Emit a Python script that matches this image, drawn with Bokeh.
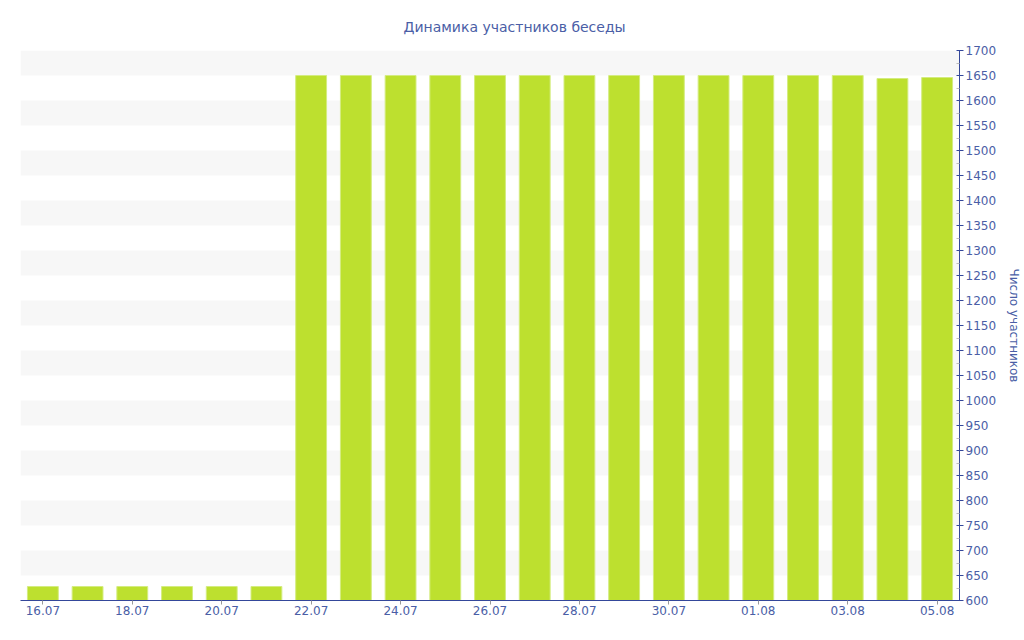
from bokeh.plotting import figure
from bokeh.models import FixedTicker, Range1d, Title
from bokeh.embed import file_html
from bokeh.resources import INLINE

dates = ["16.07", "17.07", "18.07", "19.07", "20.07", "21.07", "22.07",
         "23.07", "24.07", "25.07", "26.07", "27.07", "28.07", "29.07",
         "30.07", "31.07", "01.08", "02.08", "03.08", "04.08", "05.08"]
members = [628, 628, 628, 628, 628, 628, 1650,
           1650, 1650, 1650, 1650, 1650, 1650, 1650,
           1650, 1650, 1650, 1650, 1650, 1644, 1646]
y_ticks = list(range(600, 1701, 50))
x_tick_idx = list(range(0, 21, 2))
title_text = "Динамика участников беседы"

TEXT = "#4a5ea6"
AXIS = "#34479a"
FONT = "DejaVu Sans"

p = figure(width=1024, height=640, output_backend="svg", toolbar_location=None,
           x_range=Range1d(-0.5, len(dates) - 0.5), y_range=Range1d(600, 1700),
           y_axis_location="right", min_border_left=20, min_border_right=64,
           min_border_top=50, min_border_bottom=40)
p.outline_line_color = None
p.background_fill_color = "white"

p.vbar(x=list(range(len(dates))), top=members, bottom=600, width=0.69,
       fill_color="#bde02f", line_color="#d4ec80", line_width=1)

t = Title(text=title_text, align="left",
          text_font=FONT, text_font_size="14px", text_font_style="normal",
          text_color=TEXT, offset=383, standoff=32)
p.add_layout(t, "above")

# x axis
p.xaxis.ticker = FixedTicker(ticks=x_tick_idx)
p.xaxis.major_label_overrides = {i: dates[i] for i in x_tick_idx}
p.xaxis.axis_line_color = AXIS
p.xaxis.major_tick_line_color = "#999999"
p.xaxis.major_tick_in = 0
p.xaxis.major_tick_out = 4
p.xaxis.minor_tick_line_color = None
p.xaxis.major_label_text_font = FONT
p.xaxis.major_label_text_font_size = "12px"
p.xaxis.major_label_text_color = TEXT
p.xaxis.major_label_standoff = 1

# y axis (right)
p.yaxis.ticker = FixedTicker(ticks=y_ticks, minor_ticks=[v + 25 for v in y_ticks[:-1]])
p.yaxis.axis_line_color = AXIS
p.yaxis.major_tick_line_color = AXIS
p.yaxis.major_tick_in = 3
p.yaxis.major_tick_out = 4
p.yaxis.minor_tick_line_color = "#bbbbbb"
p.yaxis.minor_tick_in = 3
p.yaxis.minor_tick_out = 0
p.yaxis.major_label_text_font = FONT
p.yaxis.major_label_text_font_size = "12px"
p.yaxis.major_label_text_color = TEXT
p.yaxis.major_label_standoff = 2
p.yaxis.axis_label = "Число участников"
p.yaxis.axis_label_text_font = FONT
p.yaxis.axis_label_text_font_size = "12px"
p.yaxis.axis_label_text_font_style = "normal"
p.yaxis.axis_label_text_color = TEXT
p.yaxis.axis_label_standoff = 8

p.xgrid.grid_line_color = None
p.ygrid.grid_line_color = None
p.ygrid.ticker = FixedTicker(ticks=y_ticks)
p.ygrid.band_fill_color = "#f7f7f7"
p.ygrid.band_fill_alpha = 1.0

open("out.html", "w").write(file_html(p, INLINE))
